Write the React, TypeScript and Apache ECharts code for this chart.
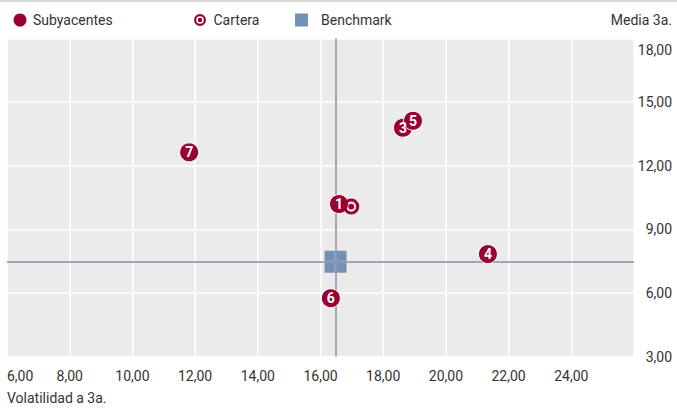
import React, { useEffect, useRef } from "react";
import * as echarts from "echarts";

// ---- data ----
const pointIds = ["1", "3", "4", "5", "6", "7"];
const volatility = [16.59, 18.63, 21.34, 18.95, 16.33, 11.81];
const meanReturn = [10.19, 13.79, 7.83, 14.12, 5.75, 12.63];
const portfolioPoint = [16.98, 10.07];
const benchmarkPoint = [16.48, 7.47];
const xRange = [6, 26, 2];
const yRange = [3, 18, 3];
const seriesNames = ["Subyacentes", "Cartera", "Benchmark"];
const yAxisTitle = "Media 3a.";
const xAxisTitle = "Volatilidad a 3a.";

const FONT = "Roboto, 'DejaVu Sans Condensed', sans-serif";
const FS = 14;
const RED = "#990033";
const BLUE = "#7391b6";
const TEXT = "#333333";

const fmt = (v: number) => v.toFixed(2).replace(".", ",");

const ringPath =
  "path://M0,-7 A7,7 0 1,1 0,7 A7,7 0 1,1 0,-7 Z M0,-4.4 A4.4,4.4 0 1,0 0,4.4 A4.4,4.4 0 1,0 0,-4.4 Z M0,-2.6 A2.6,2.6 0 1,1 0,2.6 A2.6,2.6 0 1,1 0,-2.6 Z";

export default function App() {
  const ref = useRef<HTMLDivElement>(null);
  useEffect(() => {
    document.body.style.margin = "0";
    if (!ref.current) return;
    const chart = echarts.init(ref.current, null, { renderer: "svg" });
    const legendBase = {
      top: 13,
      padding: 0,
      orient: "horizontal" as const,
      selectedMode: false,
      textStyle: { fontFamily: FONT, fontSize: FS, color: TEXT },
    };
    chart.setOption({
      animation: false,
      textStyle: { fontFamily: FONT },
      grid: {
        left: 7,
        right: 43,
        top: 38.5,
        bottom: 52.5,
        show: true,
        backgroundColor: "#ebebeb",
        borderWidth: 0,
      },
      legend: [
        {
          ...legendBase,
          left: 13.5,
          data: [{ name: seriesNames[0], icon: "circle", itemStyle: { borderWidth: 0, opacity: 1 } }],
          itemWidth: 13,
          itemHeight: 13,
          textStyle: { ...legendBase.textStyle, padding: [0, 0, 0, 1.5] },
        },
        {
          ...legendBase,
          left: 194,
          data: [{ name: seriesNames[1], icon: ringPath, itemStyle: { opacity: 1 } }],
          itemWidth: 12,
          itemHeight: 12,
          textStyle: { ...legendBase.textStyle, padding: [0, 0, 0, 2.5] },
        },
        {
          ...legendBase,
          left: 295,
          data: [{ name: seriesNames[2], icon: "rect", itemStyle: { opacity: 1 } }],
          itemWidth: 13,
          itemHeight: 13,
          textStyle: { ...legendBase.textStyle, padding: [0, 0, 0, 8] },
        },
      ],
      xAxis: {
        type: "value",
        min: xRange[0],
        max: xRange[1],
        interval: xRange[2],
        axisLine: { show: false },
        axisTick: { show: false },
        splitLine: { show: true, lineStyle: { color: "#ffffff", width: 1.5 } },
        axisLabel: {
          formatter: fmt,
          fontFamily: FONT,
          fontSize: FS,
          color: TEXT,
          margin: 12,
          showMaxLabel: false,
          alignMinLabel: "left",
        },
      },
      yAxis: {
        type: "value",
        position: "right",
        min: yRange[0],
        max: yRange[1],
        interval: yRange[2],
        axisLine: { show: false },
        axisTick: { show: false },
        splitLine: { show: true, lineStyle: { color: "#ffffff", width: 1.5 } },
        axisLabel: {
          formatter: (v: number) => (v === yRange[1] ? `{top|${fmt(v)}}` : fmt(v)),
          fontFamily: FONT,
          fontSize: FS,
          color: TEXT,
          align: "right",
          margin: 38,
          verticalAlignMaxLabel: "top",
          rich: {
            top: { fontFamily: FONT, fontSize: FS, color: TEXT, padding: [4, 0, 0, 0] },
          },
        },
      },
      graphic: [
        {
          type: "line",
          shape: { x1: 0, y1: 1, x2: 677, y2: 1 },
          style: { stroke: "#d9d9d9", lineWidth: 2 },
          silent: true,
        },
        {
          type: "text",
          right: 5,
          top: 13,
          style: { text: yAxisTitle, font: `${FS}px ${FONT}`, fill: TEXT },
        },
        {
          type: "text",
          left: 7,
          top: 391,
          style: { text: xAxisTitle, font: `${FS}px ${FONT}`, fill: TEXT },
        },
      ],
      series: [
        {
          name: "crosshair",
          type: "scatter",
          data: [],
          z: 1,
          silent: true,
          markLine: {
            silent: true,
            symbol: ["none", "none"],
            label: { show: false },
            lineStyle: { color: "#8c8ea2", width: 1.5, type: "solid", opacity: 1 },
            emphasis: { disabled: true },
            data: [{ xAxis: benchmarkPoint[0] }, { yAxis: benchmarkPoint[1] }],
          },
        },
        {
          name: seriesNames[2],
          type: "scatter",
          z: 3,
          symbol: "rect",
          symbolSize: 22,
          itemStyle: { color: BLUE, opacity: 1 },
          data: [benchmarkPoint],
        },
        {
          name: "benchmarkCross",
          type: "scatter",
          z: 4,
          silent: true,
          symbol: "path://M10,0H12V22H10Z M0,10H10V12H0Z M12,10H22V12H12Z",
          symbolSize: 22,
          itemStyle: { color: "#a9bcd2", opacity: 1 },
          data: [benchmarkPoint],
        },
        {
          name: seriesNames[0],
          type: "scatter",
          z: 5,
          symbol: "circle",
          symbolSize: 19,
          itemStyle: { color: RED, borderColor: "#ffffff", borderWidth: 1, opacity: 1 },
          label: {
            show: true,
            position: "inside",
            formatter: (p: any) => p.value[2],
            color: "#ffffff",
            fontFamily: FONT,
            fontWeight: "bold",
            fontSize: 14,
          },
          data: volatility.map((x, i) => [x, meanReturn[i], pointIds[i]]),
        },
        {
          name: seriesNames[1],
          type: "scatter",
          z: 6,
          symbol: ringPath,
          symbolSize: 16,
          itemStyle: { color: RED, opacity: 1 },
          data: [portfolioPoint],
        },
      ],
    });
    return () => chart.dispose();
  }, []);
  return <div ref={ref} style={{ width: 677, height: 409 }} />;
}
